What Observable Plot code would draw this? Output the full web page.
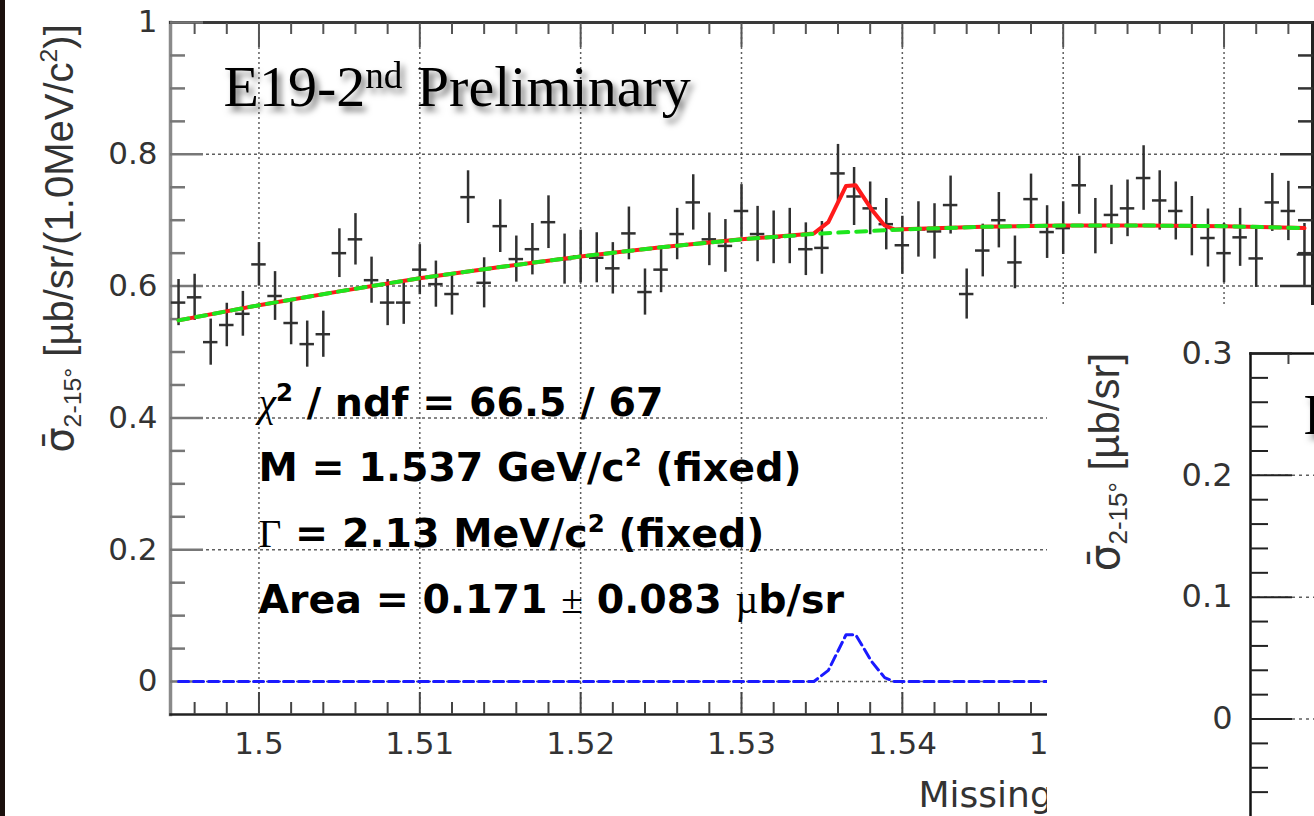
<!DOCTYPE html>
<html><head><meta charset="utf-8">
<script src="https://cdn.jsdelivr.net/npm/d3@7"></script>
<script src="https://cdn.jsdelivr.net/npm/@observablehq/plot@0.6"></script>
<style>
body{margin:0;background:#fff;}
#wrap{position:relative;width:1314px;height:816px;overflow:hidden;background:#fff;}
#main{position:absolute;left:0;top:0;}
#inset{position:absolute;left:1047px;top:305px;}
#strip{position:absolute;left:0;top:0;width:5px;height:816px;background:#1b100d;}
</style></head><body>
<div id="wrap"><div id="main"></div><div id="inset"></div><div id="strip"></div></div>
<script>
// ---- data ----
const mass = [1.495,1.496,1.497,1.498,1.499,1.500,1.501,1.502,1.503,1.504,
  1.505,1.506,1.507,1.508,1.509,1.510,1.511,1.512,1.513,1.514,
  1.515,1.516,1.517,1.518,1.519,1.520,1.521,1.522,1.523,1.524,
  1.525,1.526,1.527,1.528,1.529,1.530,1.531,1.532,1.533,1.534,
  1.535,1.536,1.537,1.538,1.539,1.540,1.541,1.542,1.543,1.544,
  1.545,1.546,1.547,1.548,1.549,1.550,1.551,1.552,1.553,1.554,
  1.555,1.556,1.557,1.558,1.559,1.560,1.561,1.562,1.563,1.564,1.565];
const sigma = [0.575,0.583,0.515,0.541,0.558,0.633,0.585,0.544,0.512,0.527,
  0.650,0.671,0.609,0.575,0.575,0.625,0.603,0.588,0.735,0.605,
  0.691,0.641,0.656,0.697,0.641,0.645,0.643,0.627,0.680,0.591,
  0.625,0.679,0.727,0.671,0.661,0.714,0.679,0.674,0.676,0.656,
  0.658,0.771,0.736,0.718,0.694,0.662,0.686,0.683,0.723,0.588,
  0.654,0.700,0.636,0.732,0.682,0.688,0.753,0.691,0.708,0.718,
  0.764,0.730,0.714,0.691,0.673,0.650,0.674,0.642,0.727,0.714,0.648];
const sigmaErr = [0.035,0.035,0.035,0.033,0.034,0.033,0.037,0.033,0.035,0.035,
  0.037,0.039,0.035,0.035,0.033,0.038,0.035,0.032,0.040,0.038,
  0.040,0.035,0.039,0.040,0.038,0.040,0.038,0.039,0.040,0.035,
  0.035,0.039,0.042,0.040,0.040,0.040,0.042,0.040,0.042,0.040,
  0.040,0.044,0.044,0.040,0.039,0.044,0.042,0.042,0.044,0.038,
  0.040,0.042,0.040,0.038,0.040,0.040,0.044,0.042,0.045,0.043,
  0.049,0.045,0.044,0.045,0.044,0.045,0.044,0.044,0.044,0.045,0.047];
// background fit (green dashed)
const bgMass  = [1.495,1.500,1.505,1.510,1.515,1.520,1.525,1.530,1.535,1.540,1.545,1.550,1.555,1.560,1.565];
const bgValue = [0.548,0.571,0.592,0.612,0.629,0.645,0.659,0.671,0.680,0.686,0.690,0.692,0.692,0.691,0.688];
// total fit (red)
const fitMass  = [1.495,1.500,1.505,1.510,1.515,1.520,1.525,1.530,1.5345,1.5354,1.5365,1.5371,1.5381,1.5389,1.5395,1.545,1.550,1.555,1.560,1.565];
const fitValue = [0.548,0.571,0.592,0.612,0.629,0.645,0.659,0.671,0.680,0.697,0.752,0.753,0.716,0.692,0.686,0.690,0.692,0.692,0.691,0.688];
// signal only (blue dashed)
const sigMass  = [1.495,1.5345,1.5354,1.5365,1.5371,1.5381,1.5389,1.5395,1.565];
const sigValue = [0,0,0.017,0.071,0.071,0.030,0.006,0,0];
// ticks
const xMajor = [1.5,1.51,1.52,1.53,1.54,1.55,1.56];
const xLabels = [1.5,1.51,1.52,1.53,1.54,1.55];
const xMinor = [1.496,1.498,1.502,1.504,1.506,1.508,1.512,1.514,1.516,1.518,1.522,1.524,1.526,1.528,
  1.532,1.534,1.536,1.538,1.542,1.544,1.546,1.548,1.552,1.554,1.556,1.558,1.562,1.564];
const yMajor = [0,0.2,0.4,0.6,0.8,1];
const yMinor = [0.05,0.1,0.15,0.25,0.3,0.35,0.45,0.5,0.55,0.65,0.7,0.75,0.85,0.9,0.95];
const insetYMajor = [0,0.1,0.2,0.3];
const insetYMinor = [-0.06,-0.04,-0.02,0.02,0.04,0.06,0.08,0.12,0.14,0.16,0.18,0.22,0.24,0.26,0.28];
const insetXTicks = [1.498];
// texts
const tag = "E19-2^{nd} Preliminary";
const statsLines = ["χ^{2} / ndf = 66.5 / 67","M = 1.537 GeV/c^{2} (fixed)","Γ = 2.13 MeV/c^{2} (fixed)","Area = 0.171 ± 0.083 µb/sr"];
const yTitle = "σ̄_{2-15°} [µb/sr/(1.0MeV/c^{2})]";
const insetYTitle = "σ̄_{2-15°} [µb/sr]";
const xTitle = "Missing";

// ---- tables ----
const points = mass.map((m,i)=>({m, v:sigma[i], e:sigmaErr[i]}));
const bg = bgMass.map((m,i)=>({m, v:bgValue[i]}));
const fit = fitMass.map((m,i)=>({m, v:fitValue[i]}));
const sig = sigMass.map((m,i)=>({m, v:sigValue[i]}));

const dotted = {stroke:"#5e5e5e", strokeOpacity:1, strokeWidth:1.5};
const tagStyle = {text:d=>d, frameAnchor:"top-left", dx:53, textAnchor:"start", lineAnchor:"bottom", fontFamily:"Liberation Serif", fontSize:58, fill:"#000"};

const main = Plot.plot({
  width:1314, height:816, marginLeft:170, marginRight:2, marginTop:22, marginBottom:102,
  x:{domain:[1.4945,1.5655], label:null},
  y:{domain:[-0.05,1.0], label:null},
  style:{background:"transparent", overflow:"hidden"},
  marks:[
    Plot.gridX(xMajor, {...dotted, strokeDasharray:"2,3"}),
    Plot.gridY(yMajor.filter(v=>v<1), {...dotted, strokeDasharray:"3,3"}),
    // frame
    Plot.frame({anchor:"left", stroke:"#8a8a8a", strokeWidth:3.5}),
    Plot.frame({anchor:"top", stroke:"#3a3a3a", strokeWidth:3}),
    Plot.frame({anchor:"bottom", stroke:"#222", strokeWidth:2.5}),
    Plot.frame({anchor:"right", stroke:"#222", strokeWidth:3}),
    // ticks (inward)
    Plot.axisY(yMajor, {anchor:"left", tickSize:33, dx:33, fill:"none", stroke:"#777", strokeWidth:2.5, label:null}),
    Plot.axisY(yMinor, {anchor:"left", tickSize:15, dx:15, fill:"none", stroke:"#777", strokeWidth:2.5, label:null}),
    Plot.axisY(yMajor, {anchor:"right", tickSize:33, dx:-33, fill:"none", stroke:"#333", strokeWidth:2.5, label:null}),
    Plot.axisY(yMinor, {anchor:"right", tickSize:15, dx:-15, fill:"none", stroke:"#333", strokeWidth:2.5, label:null}),
    Plot.axisX(xMajor, {anchor:"bottom", tickSize:22, dy:-22, fill:"none", stroke:"#444", strokeWidth:2, label:null}),
    Plot.axisX(xMinor, {anchor:"bottom", tickSize:12, dy:-12, fill:"none", stroke:"#444", strokeWidth:2, label:null}),
    Plot.axisX(xMajor, {anchor:"top", tickSize:24, dy:24, fill:"none", stroke:"#555", strokeWidth:2, label:null}),
    Plot.axisX(xMinor, {anchor:"top", tickSize:11, dy:11, fill:"none", stroke:"#555", strokeWidth:2, label:null}),
    // tick labels
    Plot.axisY(yMajor, {anchor:"left", tickSize:0, tickPadding:13, tickFormat:d=>String(d), fontSize:31, fontFamily:"DejaVu Sans", fill:"#333", label:null}),
    Plot.axisX(xLabels, {anchor:"bottom", tickSize:0, tickPadding:17, tickFormat:d=>String(d), fontSize:31, fontFamily:"DejaVu Sans", fill:"#333", label:null}),
    // data with error bars
    Plot.ruleX(points, {x:"m", y1:d=>d.v-d.e, y2:d=>d.v+d.e, stroke:"#303030", strokeWidth:2.5}),
    Plot.ruleY(points, {y:"v", x1:d=>d.m-0.00045, x2:d=>d.m+0.00045, stroke:"#303030", strokeWidth:2.5}),
    // fit curves
    Plot.line(fit, {x:"m", y:"v", stroke:"#ff1a1a", strokeWidth:4}),
    Plot.line(bg, {x:"m", y:"v", stroke:"#1ee61e", strokeWidth:4, strokeDasharray:"10,8"}),
    Plot.line(sig, {x:"m", y:"v", stroke:"#1a1aff", strokeWidth:3, strokeDasharray:"10,5"}),
    // annotations
    Plot.text([tag], {...tagStyle, dy:83}),
    Plot.text([statsLines.join("\n")], {text:d=>d, frameAnchor:"bottom-left", dx:88, dy:-102, textAnchor:"start", lineAnchor:"bottom", lineHeight:1.66, fontFamily:"DejaVu Sans", fontWeight:"bold", fontSize:39.5, fill:"#000"}),
    Plot.text([yTitle], {text:d=>d, frameAnchor:"left", dx:-98, dy:-130, rotate:-90, textAnchor:"middle", lineAnchor:"bottom", fontFamily:"Liberation Sans", fontSize:40, fill:"#333"}),
    Plot.text([xTitle], {text:d=>d, frameAnchor:"bottom-left", dx:748, dy:92, textAnchor:"start", lineAnchor:"bottom", fontFamily:"DejaVu Sans", fontSize:36, fill:"#333"})
  ]
});

const inset = Plot.plot({
  width:267, height:511, marginLeft:203, marginRight:0, marginTop:48, marginBottom:0,
  x:{domain:[1.4945,1.5004], label:null},
  y:{domain:[-0.08,0.3], label:null},
  style:{background:"#fff", overflow:"hidden"},
  marks:[
    Plot.gridY(insetYMajor.filter(v=>v<0.3), {...dotted, strokeDasharray:"3,4"}),
    Plot.frame({anchor:"left", stroke:"#111", strokeWidth:2.5}),
    Plot.frame({anchor:"top", stroke:"#111", strokeWidth:2.5}),
    Plot.axisY(insetYMajor, {anchor:"left", tickSize:42, dx:42, fill:"none", stroke:"#222", strokeWidth:2, label:null}),
    Plot.axisY(insetYMinor, {anchor:"left", tickSize:18, dx:18, fill:"none", stroke:"#222", strokeWidth:2, label:null}),
    Plot.axisX(insetXTicks, {anchor:"top", tickSize:10, dy:10, fill:"none", stroke:"#444", strokeWidth:2, label:null}),
    Plot.axisY(insetYMajor, {anchor:"left", tickSize:0, tickPadding:18, tickFormat:d=>String(d), fontSize:32, fontFamily:"DejaVu Sans", fill:"#333", label:null}),
    Plot.text([insetYTitle], {text:d=>d, frameAnchor:"left", dx:-132, dy:-123, rotate:-90, textAnchor:"middle", lineAnchor:"bottom", fontFamily:"Liberation Sans", fontSize:42, fill:"#333"}),
    Plot.text([tag], {...tagStyle, dy:80})
  ]
});

document.getElementById("main").appendChild(main);
document.getElementById("inset").appendChild(inset);

// ---- rich text (sub/superscripts, overline, symbol glyphs) ----
const SVGNS = "http://www.w3.org/2000/svg";
function parseRich(s){
  const out=[]; let i=0;
  while(i<s.length){
    if((s[i]==="^"||s[i]==="_")&&s[i+1]==="{"){
      const j=s.indexOf("}",i);
      out.push({t:s.slice(i+2,j), kind:s[i]==="^"?"sup":"sub"}); i=j+1;
    } else {
      let j=i; while(j<s.length && !((s[j]==="^"||s[j]==="_")&&s[j+1]==="{")) j++;
      out.push({t:s.slice(i,j), kind:"normal"}); i=j;
    }
  }
  return out;
}
const SYMBOLS = "χΓ±µ";
function splitPieces(t, symbols){
  const pieces=[];
  for(const part of t.split(/(σ\u0304)/)){
    if(!part) continue;
    if(part==="σ\u0304"){ pieces.push({t:part, bar:true}); continue; }
    if(!symbols){ pieces.push({t:part}); continue; }
    let cur="", curSym=null;
    for(const ch of part){ const sy=SYMBOLS.includes(ch); if(curSym!==null && sy!==curSym){pieces.push({t:cur,sym:curSym}); cur="";} cur+=ch; curSym=sy; }
    if(cur) pieces.push({t:cur, sym:curSym});
  }
  return pieces;
}
function fillRich(el, s, fs, opts){
  const {supScale=0.62, supShift=0.38, subShift=0.22, symbols=false} = opts||{};
  el.textContent="";
  let shift=0;
  for(const run of parseRich(s)){
    const pieces = run.kind==="normal" ? splitPieces(run.t, symbols) : [{t:run.t}];
    for(const p of pieces){
      const ts=document.createElementNS(SVGNS,"tspan");
      const target = run.kind==="sup" ? -supShift*fs : run.kind==="sub" ? subShift*fs : 0;
      if(target!==shift){ ts.setAttribute("dy", (target-shift).toFixed(2)); shift=target; }
      if(run.kind!=="normal") ts.setAttribute("font-size", (supScale*fs).toFixed(2));
      if(p.sym){ ts.setAttribute("font-family","Liberation Serif"); ts.setAttribute("font-weight","normal"); if(p.t==="χ") ts.setAttribute("font-style","italic"); }
      if(p.bar){ ts.setAttribute("font-family","DejaVu Sans"); }
      ts.textContent=p.t;
      el.appendChild(ts);
    }
  }
}
function richify(svg){
  d3.select(svg).selectAll("text").each(function(){
    const fs=parseFloat(getComputedStyle(this).fontSize);
    const lines=[...this.children].filter(c=>c.tagName==="tspan");
    if(lines.length){
      for(const ln of lines) fillRich(ln, ln.textContent, fs, {symbols:true});
      return;
    }
    const s=this.textContent;
    if(s.includes("Preliminary")){
      fillRich(this, s, fs, {supScale:0.64, supShift:0.31});
      this.style.filter="drop-shadow(4px 5px 3px rgba(0,0,0,0.55))";
    } else if(s.includes("^{")||s.includes("_{")){
      fillRich(this, s, fs, {supScale:0.62, supShift:0.38, subShift:0.2});
    }
  });
}
richify(main); richify(inset);
</script></body></html>
